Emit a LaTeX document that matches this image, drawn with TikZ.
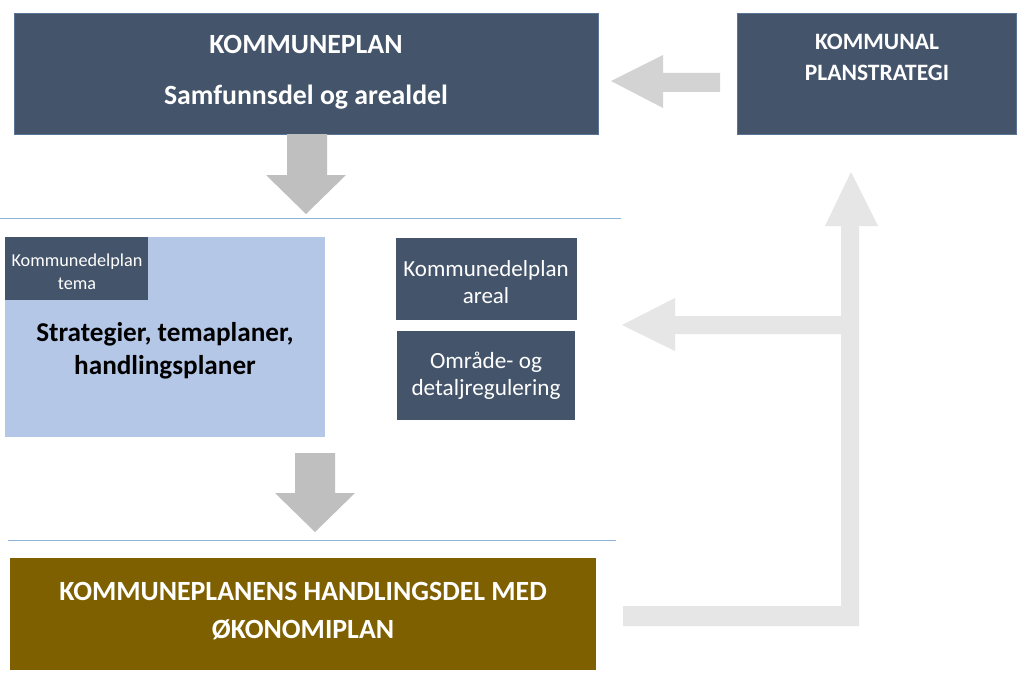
\documentclass[tikz,border=0pt]{standalone}
\usepackage{fontspec}
\setmainfont{Carlito}
\definecolor{slate}{HTML}{44546A}
\definecolor{slateedge}{HTML}{5A7496}
\definecolor{paleblue}{HTML}{B4C7E7}
\definecolor{brown}{HTML}{7F6000}
\definecolor{arrowgray}{HTML}{BFBFBF}
\definecolor{arrowlight}{HTML}{D3D3D3}
\definecolor{arrowpale}{HTML}{E6E6E6}
\definecolor{rulecol}{HTML}{8DB3D9}
\begin{document}
\begin{tikzpicture}[x=1pt,y=-1pt,
  darkbox/.style={fill=slate, draw=slateedge, line width=0.8pt, inner sep=0pt, outer sep=0pt, anchor=north west},
  plainbox/.style={inner sep=0pt, outer sep=0pt, anchor=north west},
  wtxt/.style={text=white, align=center, inner sep=0pt},
  btxt/.style={text=black, align=center, inner sep=0pt},
  rule/.style={draw=rulecol, line width=0.9pt}
]
\useasboundingbox (0,0) rectangle (1024,682);
\fill[white] (0,0) rectangle (1024,682);

% boxes
\node[darkbox, minimum width=584pt, minimum height=121pt] (kp) at (14,13) {};
\node[darkbox, minimum width=279pt, minimum height=121pt] (kps) at (737,13) {};
\node[plainbox, fill=paleblue, minimum width=320pt, minimum height=200pt] (strat) at (5,237) {};
\node[plainbox, fill=slate, minimum width=143pt, minimum height=63pt] (tema) at (5,237) {};
\node[plainbox, fill=slate, minimum width=181pt, minimum height=82pt] (areal) at (396,238) {};
\node[plainbox, fill=slate, minimum width=178pt, minimum height=89pt] (omr) at (397,331) {};
\node[plainbox, fill=brown, minimum width=586pt, minimum height=112pt] (hd) at (10,558) {};

% texts
\node[wtxt, font=\bfseries\fontsize{27.8}{51}\selectfont] (kpt) at (306,72) {KOMMUNEPLAN\\Samfunnsdel og arealdel};
\node[wtxt, font=\bfseries\fontsize{23.5}{31}\selectfont] (kpst) at (877,57) {KOMMUNAL\\PLANSTRATEGI};
\node[wtxt, font=\fontsize{18.2}{23}\selectfont] (temat) at (77,272) {Kommunedelplan\\tema};
\node[btxt, font=\bfseries\fontsize{27.2}{33}\selectfont] (stratt) at (165,351) {Strategier, temaplaner,\\handlingsplaner};
\node[wtxt, font=\fontsize{23}{27}\selectfont] (arealt) at (486,282) {Kommunedelplan\\areal};
\node[wtxt, font=\fontsize{23.2}{27}\selectfont] (omrt) at (486,376) {Område- og\\detaljregulering};
\node[wtxt, font=\bfseries\fontsize{27.8}{38}\selectfont] (hdt) at (303,611) {KOMMUNEPLANENS HANDLINGSDEL MED\\ØKONOMIPLAN};

% rules
\coordinate (r1a) at (0,218); \coordinate (r1b) at (621,218);
\coordinate (r2a) at (8,540); \coordinate (r2b) at (616,540);
\draw[rule] (r1a) -- (r1b);
\draw[rule] (r2a) -- (r2b);

% block arrows
\fill[arrowgray] (287,134) -- (327,134) -- (327,175) -- (346,175) -- (306,214) -- (266,175) -- (287,175) -- cycle;
\fill[arrowgray] (295,453) -- (335,453) -- (335,493) -- (355,493) -- (315,532) -- (275,493) -- (295,493) -- cycle;
\fill[arrowlight] (720,73) -- (663,73) -- (663,55) -- (611,81) -- (663,108) -- (663,92) -- (720,92) -- cycle;
\fill[arrowpale] (623,606) -- (841,606) -- (841,334) -- (675,334) -- (675,351) -- (622,325) -- (675,298) -- (675,316) -- (841,316) -- (841,226) -- (825,226) -- (851,172) -- (878,226) -- (859,226) -- (859,626) -- (623,626) -- cycle;
\end{tikzpicture}
\end{document}
